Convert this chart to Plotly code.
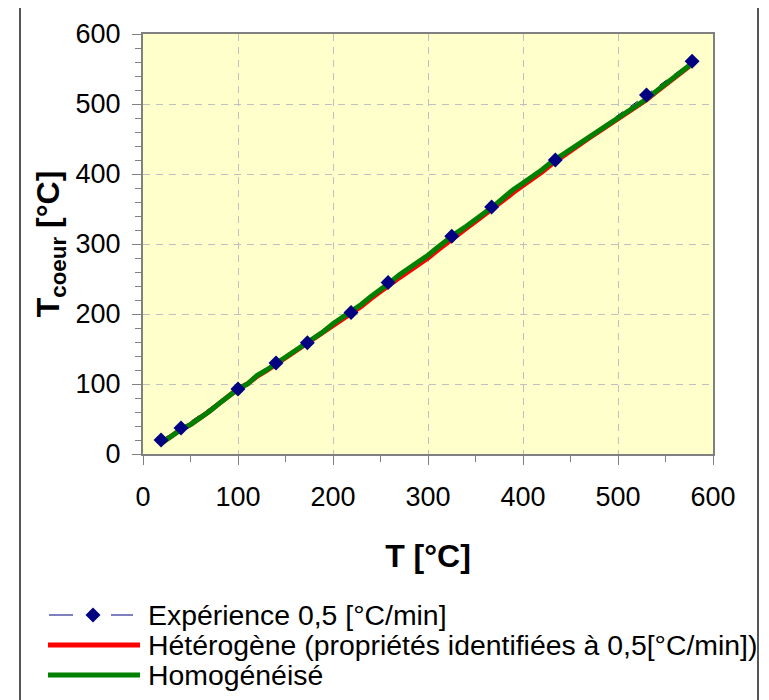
import plotly.graph_objects as go

# ---- data ----
exp_T = [19, 40, 100, 140, 173, 219, 258, 325, 367, 434, 530, 578]
exp_Tc = [20, 37, 93, 130, 159, 202, 245, 311, 353, 420, 513, 561]

model_T = [20, 30, 40, 50, 60, 70, 80, 90, 100, 110, 120, 130, 140, 150, 160, 170,
           180, 190, 200, 210, 220, 230, 240, 250, 260, 270, 280, 290, 300, 310,
           320, 330, 340, 350, 360, 370, 380, 390, 400, 410, 420, 430, 440, 450,
           460, 470, 480, 490, 500, 510, 520, 530, 540, 550, 560, 570, 575]
homog_Tc = [16, 26, 35, 42, 51, 61, 72, 83, 93, 100, 112, 120, 129, 138, 147, 156,
            165, 175, 186, 195, 203, 214, 225, 234, 245, 256, 265, 275, 284, 295,
            306, 316, 325, 336, 345, 355, 367, 378, 387, 396, 406, 417, 426, 436,
            444, 453, 462, 471, 479, 489, 497, 507, 518, 529, 540, 550, 555]
heter_Tc = [16, 26, 35, 42, 51, 61, 72, 83, 93, 100, 111, 119, 128, 137, 146, 155,
            164, 174, 184, 193, 201, 211, 222, 231, 242, 252, 261, 271, 280, 291,
            302, 312, 322, 332, 342, 351, 363, 374, 383, 393, 403, 414, 424, 434,
            443, 452, 461, 470, 478, 488, 496, 506, 517, 528, 539, 549, 554]

x_ticks = [0, 100, 200, 300, 400, 500, 600]
y_ticks = [0, 100, 200, 300, 400, 500, 600]

leg_labels = ["Expérience 0,5 [°C/min]",
              "Hétérogène (propriétés identifiées à 0,5[°C/min])",
              "Homogénéisé"]

NAVY = "#000080"
RED = "#FF0000"
GREEN = "#008000"
FONT = "Liberation Sans, Arial, sans-serif"

OFF = 8  # page body margin
W, H = 769 - OFF, 700 - OFF
ML, MT = 143 - OFF, 34 - OFF
PW, PH = 570, 420
MR, MB = W - ML - PW, H - MT - PH


def px(x):
    # page pixel x -> paper
    return (x - OFF - ML) / PW


def py(y):
    # page pixel y -> paper
    return (MT + PH - (y - OFF)) / PH


fig = go.Figure()
fig.add_trace(go.Scatter(x=exp_T, y=exp_Tc, mode="lines",
                         line=dict(color=NAVY, width=1, dash="dash"),
                         showlegend=False, hoverinfo="skip"))
fig.add_trace(go.Scatter(x=model_T, y=heter_Tc, mode="lines",
                         line=dict(color=RED, width=5), name=leg_labels[1],
                         showlegend=False))
fig.add_trace(go.Scatter(x=model_T, y=homog_Tc, mode="lines",
                         line=dict(color=GREEN, width=5), name=leg_labels[2],
                         showlegend=False))
fig.add_trace(go.Scatter(x=exp_T, y=exp_Tc, mode="markers",
                         marker=dict(symbol="diamond", size=11.5, color=NAVY,
                                     line=dict(width=0)),
                         name=leg_labels[0], showlegend=False))

axis_common = dict(
    range=[0, 600], ticks="outside", ticklen=9,
    tickcolor="#808080", tickwidth=1,
    showline=True, linecolor="#808080", linewidth=2, mirror=True,
    showgrid=True, gridcolor="#C0C0C0", griddash="7px,6px", gridwidth=1,
    zeroline=False,
    tickfont=dict(family=FONT, size=27, color="black"),
)
fig.update_xaxes(**axis_common, tickvals=x_ticks,
                 minor=dict(dtick=50, ticks="outside", ticklen=6,
                            tickcolor="#808080", showgrid=False),
                 title=dict(text="<b>T [°C]</b>",
                            font=dict(family=FONT, size=32, color="black"),
                            standoff=33),
                 ticklabelstandoff=9)
fig.update_yaxes(**axis_common, tickvals=y_ticks,
                 minor=dict(dtick=20, ticks="outside", ticklen=6,
                            tickcolor="#808080", showgrid=False),
                 title=dict(text="<b>T<sub>coeur</sub> [°C]</b>",
                            font=dict(family=FONT, size=32, color="black"),
                            standoff=6),
                 ticklabelstandoff=6)

shapes = []
# outer frame (bottom edge lies just below the visible page)
shapes.append(dict(type="rect", xref="paper", yref="paper",
                   x0=px(20), x1=px(758), y0=py(704), y1=py(7),
                   line=dict(color="#202020", width=1.5), layer="below"))
# legend symbols
rows = [615, 645, 675]
shapes.append(dict(type="line", xref="paper", yref="paper",
                   x0=px(49), x1=px(73), y0=py(rows[0]), y1=py(rows[0]),
                   line=dict(color=NAVY, width=1)))
shapes.append(dict(type="line", xref="paper", yref="paper",
                   x0=px(111), x1=px(133), y0=py(rows[0]), y1=py(rows[0]),
                   line=dict(color=NAVY, width=1)))
cx, cy, hw = 93, rows[0], 7.5
shapes.append(dict(type="path", xref="paper", yref="paper",
                   path=f"M {px(cx)},{py(cy - hw)} L {px(cx + hw)},{py(cy)} "
                        f"L {px(cx)},{py(cy + hw)} L {px(cx - hw)},{py(cy)} Z",
                   fillcolor=NAVY, line=dict(color=NAVY, width=0)))
shapes.append(dict(type="line", xref="paper", yref="paper",
                   x0=px(48), x1=px(140), y0=py(rows[1]), y1=py(rows[1]),
                   line=dict(color=RED, width=5)))
shapes.append(dict(type="line", xref="paper", yref="paper",
                   x0=px(48), x1=px(140), y0=py(rows[2]), y1=py(rows[2]),
                   line=dict(color=GREEN, width=5)))

annotations = []
for r, lab in zip(rows, leg_labels):
    annotations.append(dict(x=px(146), y=py(r), xref="paper", yref="paper",
                            text=lab, showarrow=False, xanchor="left",
                            yanchor="middle",
                            font=dict(family=FONT, size=28.4, color="black")))

fig.update_layout(
    width=W, height=H,
    margin=dict(l=ML, r=MR, t=MT, b=MB, pad=0),
    plot_bgcolor="#FFFFCC", paper_bgcolor="white",
    showlegend=False,
    shapes=shapes, annotations=annotations,
    font=dict(family=FONT, color="black"),
)

fig.write_html("out.html")
